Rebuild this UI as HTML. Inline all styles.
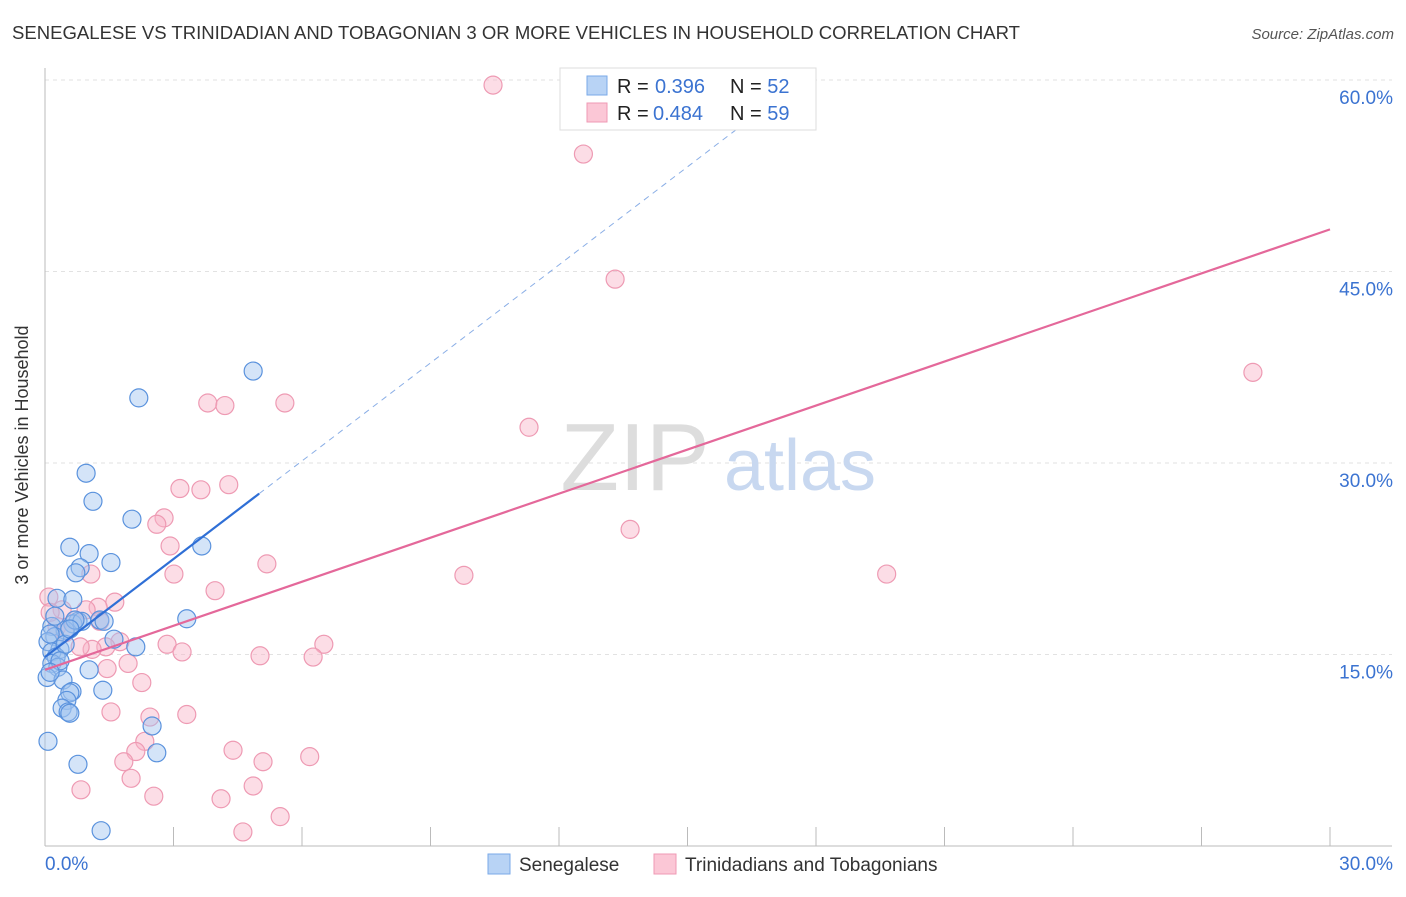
<!DOCTYPE html>
<html><head><meta charset="utf-8"><style>
body{margin:0;background:#fff;font-family:"Liberation Sans",sans-serif}
svg text{font-family:"Liberation Sans",sans-serif}
</style></head><body>
<svg id="chart" width="1406" height="892">
<text x="12" y="39" font-size="18" fill="#333" textLength="1008" lengthAdjust="spacingAndGlyphs">SENEGALESE VS TRINIDADIAN AND TOBAGONIAN 3 OR MORE VEHICLES IN HOUSEHOLD CORRELATION CHART</text>
<text x="1394" y="39" font-size="15" fill="#555" text-anchor="end" font-style="italic">Source: ZipAtlas.com</text>
<g id="grid"></g>
<text x="635" y="490" font-size="96" fill="#ddd" font-family="Liberation Serif" text-anchor="middle">ZIP</text>
<text x="800" y="490" font-size="72" fill="#c8d8f0" text-anchor="middle">atlas</text>
<g id="pts"></g>
<g id="lines"></g>
<text x="28" y="455" font-size="18" fill="#333" text-anchor="middle" transform="rotate(-90 28 455)">3 or more Vehicles in Household</text>
<g>
<rect x="560" y="68" width="256" height="62" fill="#fff" stroke="#ddd"/>
<rect x="587" y="76" width="20" height="19" fill="#b8d3f5" stroke="#7aaae8"/>
<rect x="587" y="103" width="20" height="19" fill="#fbc7d6" stroke="#ef9ab4"/>
<text x="617" y="93" font-size="20" fill="#222">R = <tspan x="655" fill="#3b73d1">0.396</tspan><tspan x="730">N = </tspan><tspan fill="#3b73d1">52</tspan></text>
<text x="617" y="120" font-size="20" fill="#222">R = <tspan x="653" fill="#3b73d1">0.484</tspan><tspan x="730">N = </tspan><tspan fill="#3b73d1">59</tspan></text>
</g>
<g>
<rect x="488" y="854" width="22" height="20" fill="#b8d3f5" stroke="#7aaae8"/>
<text x="519" y="871" font-size="19" fill="#333">Senegalese</text>
<rect x="654" y="854" width="22" height="20" fill="#fbc7d6" stroke="#ef9ab4"/>
<text x="685" y="871" font-size="19" fill="#333">Trinidadians and Tobagonians</text>
</g>
</svg>
<script>
const xTicks=[0,30];
const yTicks=[15,30,45,60];
const blueX=[2.19,4.86,0.96,1.12,2.03,0.58,1.03,1.54,3.66,0.82,0.72,0.28,0.65,3.31,1.28,0.77,1.38,0.65,0.16,0.47,0.23,1.61,2.12,0.07,0.35,0.16,0.26,0.16,0.30,1.03,0.05,0.42,1.35,0.63,0.58,0.51,0.40,0.54,0.58,2.50,0.07,2.61,0.77,1.31,0.23,0.12,0.86,0.70,0.47,0.35,0.12,0.58];
const blueY=[35.1,37.2,29.2,27.0,25.6,23.4,22.9,22.2,23.5,21.8,21.4,19.4,19.3,17.8,17.7,17.6,17.6,17.4,17.2,16.9,16.4,16.2,15.6,16.0,15.4,15.2,14.8,14.3,14.0,13.8,13.2,13.0,12.2,12.1,12.0,11.4,10.8,10.5,10.4,9.4,8.2,7.3,6.4,1.2,18.0,16.6,17.6,17.7,15.8,14.5,13.6,17.0];
const pinkX=[10.46,12.57,13.31,28.20,3.80,4.20,5.60,11.30,3.15,3.64,4.29,2.78,2.61,2.92,13.66,3.01,1.07,5.18,9.78,19.65,3.97,0.09,1.63,0.40,1.24,0.96,0.70,0.28,1.75,2.85,6.51,1.42,1.10,3.20,5.02,6.26,1.94,1.45,2.26,1.54,2.45,3.31,2.33,4.39,2.12,1.84,5.09,6.18,2.01,0.84,2.54,4.86,4.11,4.62,5.49,0.12,0.47,0.82,1.28];
const pinkY=[59.6,54.2,44.4,37.1,34.7,34.5,34.7,32.8,28.0,27.9,28.3,25.7,25.2,23.5,24.8,21.3,21.3,22.1,21.2,21.3,20.0,19.5,19.1,18.5,18.7,18.5,17.7,17.2,16.0,15.8,15.8,15.6,15.4,15.2,14.9,14.8,14.3,13.9,12.8,10.5,10.1,10.3,8.2,7.5,7.4,6.6,6.6,7.0,5.3,4.4,3.9,4.7,3.7,1.1,2.3,18.3,16.7,15.6,17.6];
const NS="http://www.w3.org/2000/svg";
const X0=45,X1=1330,Y0=846,YS=191.5/15;
function sx(v){return X0+(v/30)*(X1-X0);}
function sy(v){return Y0-v*YS;}
function mk(t,a,p){const e=document.createElementNS(NS,t);for(const k in a)e.setAttribute(k,a[k]);p.appendChild(e);return e;}
const grid=document.getElementById('grid');
yTicks.forEach(t=>{
 const l=mk('line',{x1:X0,x2:1392,y1:sy(t),y2:sy(t),stroke:'#e2e2e2','stroke-dasharray':'4,4'},grid);
 
 
 const tx=mk('text',{x:1393,y:sy(t)+24,'font-size':19,fill:'#3b73d1','text-anchor':'end'},grid);
 tx.textContent=t.toFixed(1)+'%';
 
 
});
mk('line',{x1:X0,x2:X0,y1:68,y2:846,stroke:'#bbb'},grid);
mk('line',{x1:X0,x2:1392,y1:846,y2:846,stroke:'#bbb'},grid);
for(let i=0;i<=10;i++){const x=X0+i*(X1-X0)/10;mk('line',{x1:x,x2:x,y1:827,y2:846,stroke:'#bbb'},grid);}
xTicks.forEach((t,i)=>{
 const tx=mk('text',{x:i?1393:45,y:870,'font-size':19,fill:'#3b73d1','text-anchor':i?'end':'start'},grid);
 tx.textContent=t.toFixed(1)+'%';
 
 
});
const pts=document.getElementById('pts');
pinkX.forEach((v,i)=>{
 const c=mk('circle',{cx:sx(v),cy:sy(pinkY[i]),r:9,fill:'rgba(248,180,200,0.45)',stroke:'#ee9ab3','stroke-width':1.2},pts);
 
 
});
blueX.forEach((v,i)=>{
 const c=mk('circle',{cx:sx(v),cy:sy(blueY[i]),r:9,fill:'rgba(160,196,240,0.45)',stroke:'#5a92dd','stroke-width':1.2},pts);
 
 
});
const lines=document.getElementById('lines');
const bf=[(27.6-14.8)/5.0,14.8];
const pf=[(48.3-13.8)/30,13.8];
let l=mk('line',{x1:sx(0),y1:sy(bf[1]),x2:sx(5),y2:sy(bf[1]+bf[0]*5),stroke:'#2f6fd6','stroke-width':2.2},lines);

l=mk('line',{x1:sx(5),y1:sy(bf[1]+bf[0]*5),x2:sx(16.2),y2:sy(bf[1]+bf[0]*16.2),stroke:'#8aaee6','stroke-width':1,'stroke-dasharray':'6,5'},lines);

l=mk('line',{x1:sx(0),y1:sy(pf[1]),x2:sx(30),y2:sy(pf[1]+pf[0]*30),stroke:'#e4689a','stroke-width':2.2},lines);

</script>
</body></html>
